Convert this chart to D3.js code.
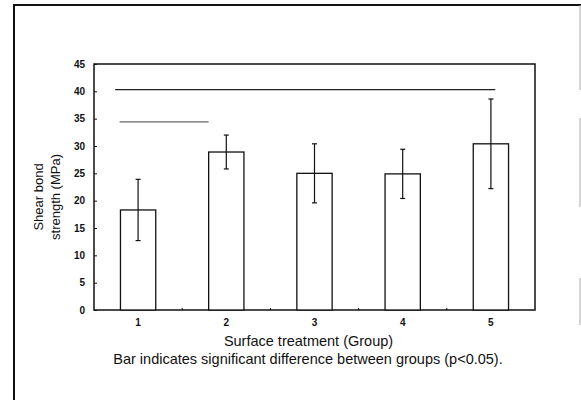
<!DOCTYPE html>
<html>
  <head>
    <meta charset="utf-8" />
    <script src="https://d3js.org/d3.v7.min.js"></script>
    <style>
        body {margin: 0; background: #fff;}
        text {font-family: "Liberation Sans", Arial, sans-serif; fill: #111;}
    </style>
  </head>
  <body>
    <svg id="viz"></svg>

    <script>
        // groups, mean shear bond strength (MPa) and their error bars
        var groups = ["1", "2", "3", "4", "5"];
        var means = [18.3, 28.9, 25.0, 24.9, 30.4];
        var errors = [5.6, 3.1, 5.4, 4.5, 8.2];
        var yTicks = [0, 5, 10, 15, 20, 25, 30, 35, 40, 45];

        // significance bars: from group, to group (band units), level in MPa
        var sigFrom = [0.74, 0.79];
        var sigTo = [5.05, 1.80];
        var sigLevel = [40.3, 34.4];

        var width = 581, height = 400;
        var margin = {left: 94, right: 46, top: 64, bottom: 90};

        var svg = d3.select("#viz")
            .attr("width", width)
            .attr("height", height);

        // outer frame of the scanned figure
        svg.append("line").attr("x1", 13).attr("x2", 581).attr("y1", 5).attr("y2", 5)
            .attr("stroke", "#111").attr("stroke-width", 2);
        svg.append("line").attr("x1", 14).attr("x2", 14).attr("y1", 5).attr("y2", 400)
            .attr("stroke", "#111").attr("stroke-width", 2);
        svg.append("line").attr("x1", 580).attr("x2", 580).attr("y1", 5).attr("y2", 90)
            .attr("stroke", "#aaa").attr("stroke-width", 1);
        svg.append("line").attr("x1", 580).attr("x2", 580).attr("y1", 118).attr("y2", 207)
            .attr("stroke", "#aaa").attr("stroke-width", 1);
        svg.append("line").attr("x1", 580).attr("x2", 580).attr("y1", 278).attr("y2", 325)
            .attr("stroke", "#aaa").attr("stroke-width", 1);

        var x = d3.scaleBand()
            .domain(groups)
            .range([margin.left, width - margin.right])
            .paddingInner(0.6)
            .paddingOuter(0.3);

        // linear version of the band axis, used for the significance bars
        var xl = d3.scaleLinear()
            .domain([1, 2])
            .range([x("1") + x.bandwidth() / 2, x("2") + x.bandwidth() / 2]);

        var y = d3.scaleLinear()
            .domain([0, 45])
            .range([height - margin.bottom, margin.top]);

        var plot = svg.append("g");

        // plot box
        plot.append("rect")
            .attr("x", margin.left)
            .attr("y", margin.top)
            .attr("width", width - margin.right - margin.left)
            .attr("height", y(0) - margin.top)
            .attr("fill", "none")
            .attr("stroke", "#111")
            .attr("stroke-width", 1.5);

        // y axis, ticks pointing inside
        var yAxis = plot.append("g")
            .attr("transform", "translate(" + margin.left + ",0)")
            .call(d3.axisRight(y).tickValues(yTicks).tickSize(3).tickFormat(d3.format("d")));
        yAxis.select(".domain").remove();
        yAxis.selectAll("line").attr("stroke", "#111");
        yAxis.selectAll("text")
            .attr("x", -9)
            .attr("text-anchor", "end")
            .style("font-size", "10px")
            .style("font-weight", "bold");

        // x axis labels, small ticks at band borders
        var xAxis = plot.append("g")
            .attr("transform", "translate(0," + y(0) + ")")
            .call(d3.axisBottom(x).tickSize(0).tickPadding(9));
        xAxis.select(".domain").remove();
        xAxis.selectAll("text")
            .style("font-size", "10px")
            .style("font-weight", "bold");

        var step = x.step();
        plot.selectAll(".btick")
            .data(groups.slice(1))
            .enter().append("line")
            .attr("class", "btick")
            .attr("x1", function(d) { return x(d) - (step - x.bandwidth()) / 2; })
            .attr("x2", function(d) { return x(d) - (step - x.bandwidth()) / 2; })
            .attr("y1", y(0))
            .attr("y2", y(0) - 2)
            .attr("stroke", "#111");

        // bars
        plot.selectAll(".bar")
            .data(means)
            .enter().append("rect")
            .attr("class", "bar")
            .attr("x", function(d, i) { return x(groups[i]); })
            .attr("y", function(d) { return y(d); })
            .attr("width", x.bandwidth())
            .attr("height", function(d) { return y(0) - y(d); })
            .attr("fill", "white")
            .attr("stroke", "#111")
            .attr("stroke-width", 1.3);

        // error bars
        var err = plot.selectAll(".err")
            .data(means)
            .enter().append("g")
            .attr("class", "err")
            .attr("transform", function(d, i) {
                return "translate(" + (x(groups[i]) + x.bandwidth() / 2) + ",0)";
            });
        err.append("line")
            .attr("y1", function(d, i) { return y(d + errors[i]); })
            .attr("y2", function(d, i) { return y(d - errors[i]); })
            .attr("stroke", "#111").attr("stroke-width", 1.2);
        err.append("line")
            .attr("x1", -2.5).attr("x2", 2.5)
            .attr("y1", function(d, i) { return y(d + errors[i]); })
            .attr("y2", function(d, i) { return y(d + errors[i]); })
            .attr("stroke", "#111").attr("stroke-width", 1.2);
        err.append("line")
            .attr("x1", -2.5).attr("x2", 2.5)
            .attr("y1", function(d, i) { return y(d - errors[i]); })
            .attr("y2", function(d, i) { return y(d - errors[i]); })
            .attr("stroke", "#111").attr("stroke-width", 1.2);

        // significance bars
        plot.selectAll(".sig")
            .data(sigLevel)
            .enter().append("line")
            .attr("class", "sig")
            .attr("x1", function(d, i) { return xl(sigFrom[i]); })
            .attr("x2", function(d, i) { return xl(sigTo[i]); })
            .attr("y1", function(d) { return y(d); })
            .attr("y2", function(d) { return y(d); })
            .attr("stroke", function(d, i) { return i == 0 ? "#222" : "#666"; })
            .attr("stroke-width", 1.3);

        // titles
        var yt = svg.append("text")
            .attr("transform", "translate(47,197) rotate(-90)")
            .attr("text-anchor", "middle")
            .style("font-size", "13px");
        yt.append("tspan").attr("x", 0).attr("dy", "-0.3em").text("Shear bond");
        yt.append("tspan").attr("x", 0).attr("dy", "1.3em").text("strength (MPa)");

        svg.append("text")
            .attr("x", (margin.left + width - margin.right) / 2 - 6)
            .attr("y", 346)
            .attr("text-anchor", "middle")
            .style("font-size", "14.5px")
            .text("Surface treatment (Group)");

        svg.append("text")
            .attr("x", 308)
            .attr("y", 364)
            .attr("text-anchor", "middle")
            .style("font-size", "14.5px")
            .text("Bar indicates significant difference between groups (p<0.05).");
    </script>
  </body>
</html>
